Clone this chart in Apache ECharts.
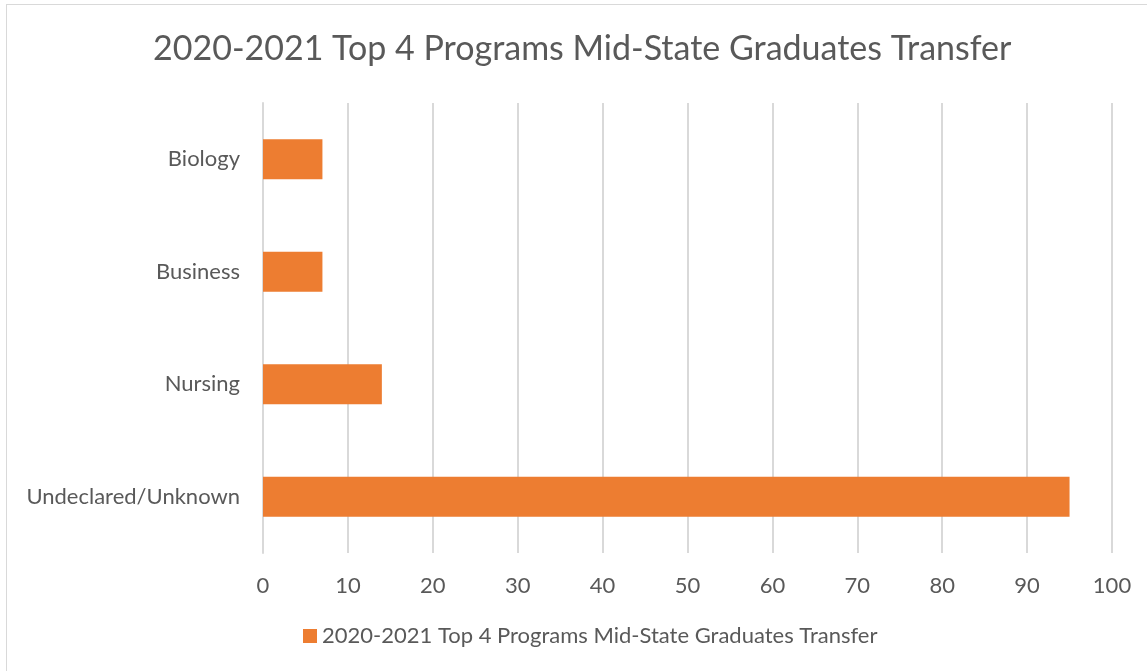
<!DOCTYPE html>
<html>
<head>
<meta charset="utf-8">
<script src="https://cdn.jsdelivr.net/npm/echarts@6/dist/echarts.min.js"></script>
<style>
  html, body { margin: 0; padding: 0; background: #fff; }
  #frame { position: absolute; left: 6px; top: 4px; width: 1150px; height: 680px; border: 1px solid #d9d9d9; box-sizing: border-box; }
  #main { position: absolute; left: 0; top: 0; width: 1147px; height: 671px; }
</style>
</head>
<body>
<div id="frame"></div>
<div id="main"></div>
<script>
var titleText = '2020-2021 Top 4 Programs Mid-State Graduates Transfer';
var seriesName = '2020-2021 Top 4 Programs Mid-State Graduates Transfer';
var categories = ['Undeclared/Unknown', 'Nursing', 'Business', 'Biology'];
var values = [95, 14, 7, 7];

var font = 'Lato';
var myChart = echarts.init(document.getElementById('main'));
option = {
    title: {
        text: titleText,
        left: 148,
        top: 27,
        textStyle: { fontFamily: font, fontSize: 34, fontWeight: 'normal', color: '#595959' }
    },
    legend: {
        bottom: 19,
        left: 298,
        itemWidth: 14,
        itemHeight: 14,
        itemGap: 6,
        icon: 'rect',
        textStyle: { fontFamily: font, fontSize: 22, color: '#595959' },
        data: [seriesName]
    },
    grid: { left: 263, right: 35, top: 103, bottom: 118 },
    xAxis: {
        type: 'value',
        min: 0,
        max: 100,
        interval: 10,
        axisLine: { show: false },
        axisTick: { show: false },
        splitLine: { lineStyle: { color: '#d9d9d9', width: 2 } },
        axisLabel: { fontFamily: font, fontSize: 22, color: '#595959', margin: 22 }
    },
    yAxis: {
        type: 'category',
        data: categories,
        axisLine: { lineStyle: { color: '#d9d9d9', width: 2 } },
        axisTick: { show: false },
        axisLabel: { fontFamily: font, fontSize: 22, color: '#595959', margin: 23 }
    },
    series: [
        {
            name: seriesName,
            type: 'bar',
            data: values,
            barWidth: 40,
            itemStyle: { color: '#ed7d31' }
        }
    ]
};
myChart.setOption(option);
</script>
</body>
</html>
